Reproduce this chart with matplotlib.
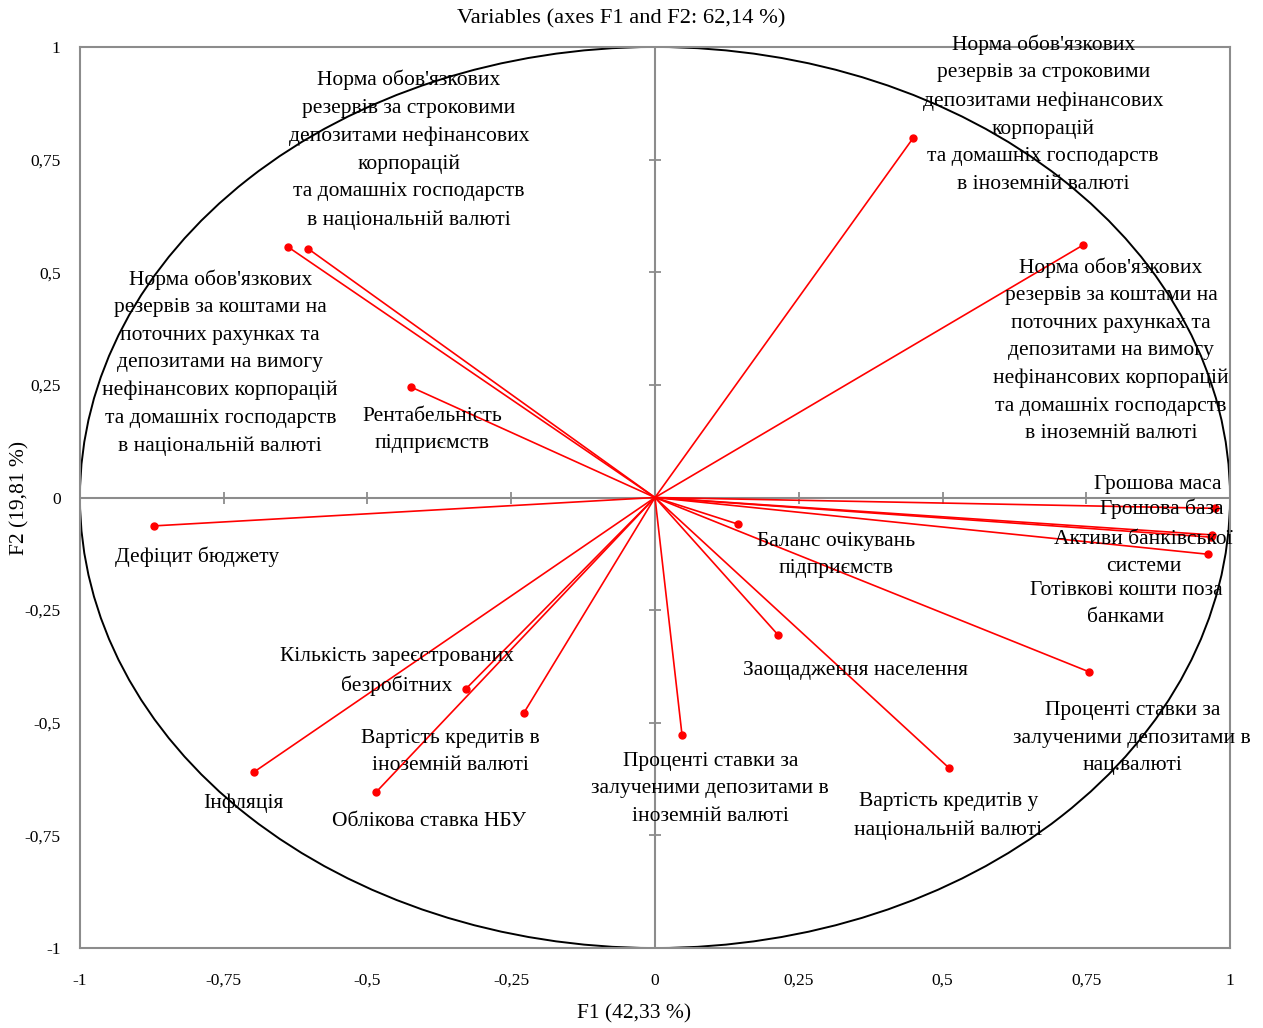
import numpy as np
import matplotlib.pyplot as plt

plt.rcParams['font.family'] = ['Liberation Serif', 'DejaVu Serif']

# variable names and loadings on F1 / F2
names = [
    "Норма обов'язкових\nрезервів за строковими\nдепозитами нефінансових\nкорпорацій\nта домашніх господарств\nв національній валюті",
    "Норма обов'язкових\nрезервів за коштами на\nпоточних рахунках та\nдепозитами на вимогу\nнефінансових корпорацій\nта домашніх господарств\nв національній валюті",
    "Норма обов'язкових\nрезервів за строковими\nдепозитами нефінансових\nкорпорацій\nта домашніх господарств\nв іноземній валюті",
    "Норма обов'язкових\nрезервів за коштами на\nпоточних рахунках та\nдепозитами на вимогу\nнефінансових корпорацій\nта домашніх господарств\nв іноземній валюті",
    "Рентабельність\nпідприємств",
    "Дефіцит бюджету",
    "Грошова маса",
    "Грошова база",
    "Активи банківської\nсистеми",
    "Готівкові кошти поза\nбанками",
    "Баланс очікувань\nпідприємств",
    "Заощадження населення",
    "Проценті ставки за\nзалученими депозитами в\nнац.валюті",
    "Вартість кредитів у\nнаціональній валюті",
    "Проценті ставки за\nзалученими депозитами в\nіноземній валюті",
    "Вартість кредитів в\nіноземній валюті",
    "Облікова ставка НБУ",
    "Кількість зареєстрованих\nбезробітних",
    "Інфляція",
]
f1 = [-0.603, -0.638, 0.449, 0.744, -0.424, -0.871, 0.974, 0.969, 0.967, 0.962,
      0.144, 0.214, 0.755, 0.511, 0.047, -0.228, -0.485, -0.329, -0.697]
f2 = [0.552, 0.556, 0.798, 0.560, 0.245, -0.063, -0.024, -0.083, -0.088, -0.126,
      -0.059, -0.305, -0.387, -0.600, -0.527, -0.478, -0.654, -0.425, -0.609]

# label centres (data units)
lab_x = [-0.428, -0.756, 0.675, 0.793, -0.388, -0.797, 0.875, 0.882, 0.850, 0.819,
         0.315, 0.348, 0.830, 0.510, 0.096, -0.355, -0.393, -0.449, -0.715]
lab_y = [0.772, 0.299, 0.851, 0.327, 0.150, -0.132, 0.028, -0.026, -0.123, -0.236,
         -0.127, -0.383, -0.534, -0.707, -0.647, -0.565, -0.720, -0.387, -0.678]

ticks = [-1, -0.75, -0.5, -0.25, 0, 0.25, 0.5, 0.75, 1]
tick_labels = ['-1', '-0,75', '-0,5', '-0,25', '0', '0,25', '0,5', '0,75', '1']

fig = plt.figure(figsize=(12.63, 10.28), dpi=100)
ax = fig.add_axes([0.0633, 0.0778, 0.9106, 0.8765])
ax.set_xlim(-1, 1)
ax.set_ylim(-1, 1)

grey = '#8c8c8c'
ax.axhline(0, color=grey, lw=1.5, zorder=1)
ax.axvline(0, color=grey, lw=1.5, zorder=1)
inner = [t for t in ticks if t not in (-1, 0, 1)]
ax.plot(inner, [0] * len(inner), ls='none', marker='|', ms=9, mew=1.3, color=grey, zorder=1)
ax.plot([0] * len(inner), inner, ls='none', marker='_', ms=9, mew=1.3, color=grey, zorder=1)

circle = plt.Circle((0, 0), 1, fill=False, color='black', lw=1.4, zorder=2)
ax.add_patch(circle)

for x, y in zip(f1, f2):
    ax.plot([0, x], [0, y], color='red', lw=1.2, zorder=3)
ax.plot(f1, f2, ls='none', marker='o', ms=5, color='red', zorder=4)

for name, x, y in zip(names, lab_x, lab_y):
    ax.text(x, y, name, ha='center', va='center', fontsize=15.5,
            linespacing=1.6, zorder=5)

for s in ax.spines.values():
    s.set_color(grey)
    s.set_linewidth(1.5)

ax.set_xticks(ticks)
ax.set_xticklabels(tick_labels)
ax.set_yticks(ticks)
ax.set_yticklabels(tick_labels)
ax.tick_params(length=0, labelsize=12.5)
ax.tick_params(axis='x', pad=18)
ax.tick_params(axis='y', pad=14)

fig.text(621 / 1263, 1 - 19 / 1028, 'Variables (axes F1 and F2: 62,14 %)',
         ha='center', va='center', fontsize=16.2)
ax.set_xlabel('F1 (42,33 %)', fontsize=15.5, va='center')
ax.xaxis.set_label_coords(0.482, -0.0735)
ax.set_ylabel('F2 (19,81 %)', fontsize=15.5, va='center')
ax.yaxis.set_label_coords(-0.052, 0.5)

fig.savefig('out.png', dpi=100)
